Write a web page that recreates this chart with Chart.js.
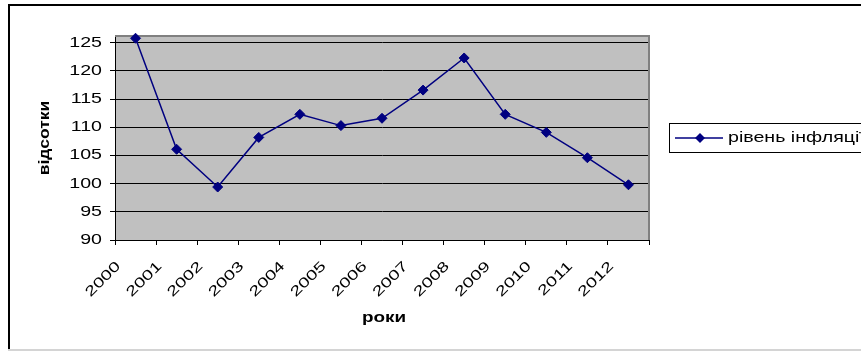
<!DOCTYPE html>
<html lang="uk">
<head>
<meta charset="utf-8">
<title>рівень інфляції</title>
<script src="https://cdn.jsdelivr.net/npm/chart.js@4/dist/chart.umd.min.js"></script>
<style>
  html, body { margin: 0; padding: 0; background: #ffffff; }
  #chart { display: block; }
</style>
</head>
<body>
<canvas id="chart" width="861" height="351"></canvas>
<script>
// Inflation level by year, percent of the previous year
const years = ['2000', '2001', '2002', '2003', '2004', '2005', '2006', '2007', '2008', '2009', '2010', '2011', '2012'];
const inflation = [125.8, 106.1, 99.4, 108.2, 112.3, 110.3, 111.6, 116.6, 122.3, 112.3, 109.1, 104.6, 99.8];
const yTicks = [90, 95, 100, 105, 110, 115, 120, 125];
const seriesName = 'рівень інфляції';
const xTitle = 'роки';
const yTitle = 'відсотки';

const FONT = '"Liberation Sans", Arial, sans-serif';
const STRETCH = 1.4;   // wide lettering of the labels
const NAVY = '#000080';

// draws a text string widened along its own direction
function wideText(ctx, text, x, y, angle, sx, align, baseline, font) {
  ctx.save();
  ctx.translate(x, y);
  ctx.rotate(angle);
  ctx.scale(sx, 1);
  ctx.font = font;
  ctx.fillStyle = '#000000';
  ctx.textAlign = align;
  ctx.textBaseline = baseline;
  ctx.fillText(text, 0, 0);
  ctx.restore();
}

const decor = {
  id: 'decor',
  beforeDraw(chart) {
    const { ctx, chartArea: a } = chart;
    ctx.save();
    // outer frame
    ctx.fillStyle = '#000000';
    ctx.fillRect(9, 4, 852, 2);
    ctx.fillRect(8, 4, 2, 346);
    ctx.fillStyle = '#d4d4d4';
    ctx.fillRect(8, 349, 853, 2);
    // plot background
    ctx.fillStyle = '#c0c0c0';
    ctx.fillRect(a.left, a.top, a.right - a.left, a.bottom - a.top);
    ctx.restore();
  },
  beforeDatasetsDraw(chart) {
    const { ctx, chartArea: a } = chart;
    ctx.save();
    ctx.strokeStyle = '#808080';
    ctx.lineWidth = 2;
    ctx.beginPath();
    ctx.moveTo(a.left, a.top);
    ctx.lineTo(a.right, a.top);
    ctx.lineTo(a.right, a.bottom);
    ctx.stroke();
    ctx.restore();
  },
  afterDraw(chart) {
    const { ctx, chartArea: a } = chart;
    const xs = chart.scales.x, ys = chart.scales.y;
    const tickFont = '14px ' + FONT;
    // value axis labels
    yTicks.forEach(v => {
      wideText(ctx, String(v), a.left - 13, ys.getPixelForValue(v), 0, STRETCH, 'right', 'middle', tickFont);
    });
    // category labels, slanted
    years.forEach((y, i) => {
      wideText(ctx, y, xs.getPixelForValue(i) - 17, a.bottom + 24, -Math.PI / 4, STRETCH, 'right', 'middle', tickFont);
    });
    // axis titles
    wideText(ctx, xTitle, (a.left + a.right) / 2 + 2, 318, 0, 1.35, 'center', 'middle', 'bold 14px ' + FONT);
    wideText(ctx, yTitle, 45, (a.top + a.bottom) / 2, -Math.PI / 2, 1.25, 'center', 'middle', 'bold 14px ' + FONT);

    // legend
    const ds = chart.data.datasets[0];
    ctx.save();
    ctx.strokeStyle = '#000000';
    ctx.lineWidth = 1;
    ctx.strokeRect(669.5, 123.5, 200, 29);
    ctx.strokeStyle = ds.borderColor;
    ctx.lineWidth = ds.borderWidth;
    ctx.beginPath();
    ctx.moveTo(675, 138);
    ctx.lineTo(723, 138);
    ctx.stroke();
    ctx.fillStyle = ds.pointBackgroundColor;
    ctx.beginPath();
    ctx.moveTo(700, 133);
    ctx.lineTo(705, 138);
    ctx.lineTo(700, 143);
    ctx.lineTo(695, 138);
    ctx.closePath();
    ctx.fill();
    ctx.restore();
    wideText(ctx, ds.label, 728, 138, 0, STRETCH, 'left', 'middle', tickFont);
  }
};

new Chart(document.getElementById('chart'), {
  type: 'line',
  data: {
    labels: years,
    datasets: [{
      label: seriesName,
      data: inflation,
      borderColor: NAVY,
      borderWidth: 1.5,
      pointStyle: 'rectRot',
      pointRadius: 5,
      pointBorderWidth: 1,
      pointBackgroundColor: NAVY,
      pointBorderColor: NAVY,
      tension: 0,
      clip: false
    }]
  },
  options: {
    responsive: false,
    animation: false,
    devicePixelRatio: 1,
    layout: { padding: { left: 110, right: 212, top: 36, bottom: 106 } },
    plugins: { legend: { display: false }, tooltip: { enabled: false } },
    scales: {
      x: {
        type: 'category',
        offset: true,
        grid: { offset: true, drawOnChartArea: false, drawTicks: true, tickLength: 5, color: '#000000', lineWidth: 1 },
        border: { color: '#000000', width: 1 },
        ticks: { display: false },
        afterFit(s) { s.height = 5; }
      },
      y: {
        min: 90,
        max: 126.2,
        grid: { drawTicks: true, tickLength: 5, color: '#000000', lineWidth: 1 },
        border: { color: '#000000', width: 1 },
        ticks: { display: false },
        afterBuildTicks(s) { s.ticks = yTicks.map(v => ({ value: v })); },
        afterFit(s) { s.width = 5; }
      }
    }
  },
  plugins: [decor]
});
</script>
</body>
</html>
